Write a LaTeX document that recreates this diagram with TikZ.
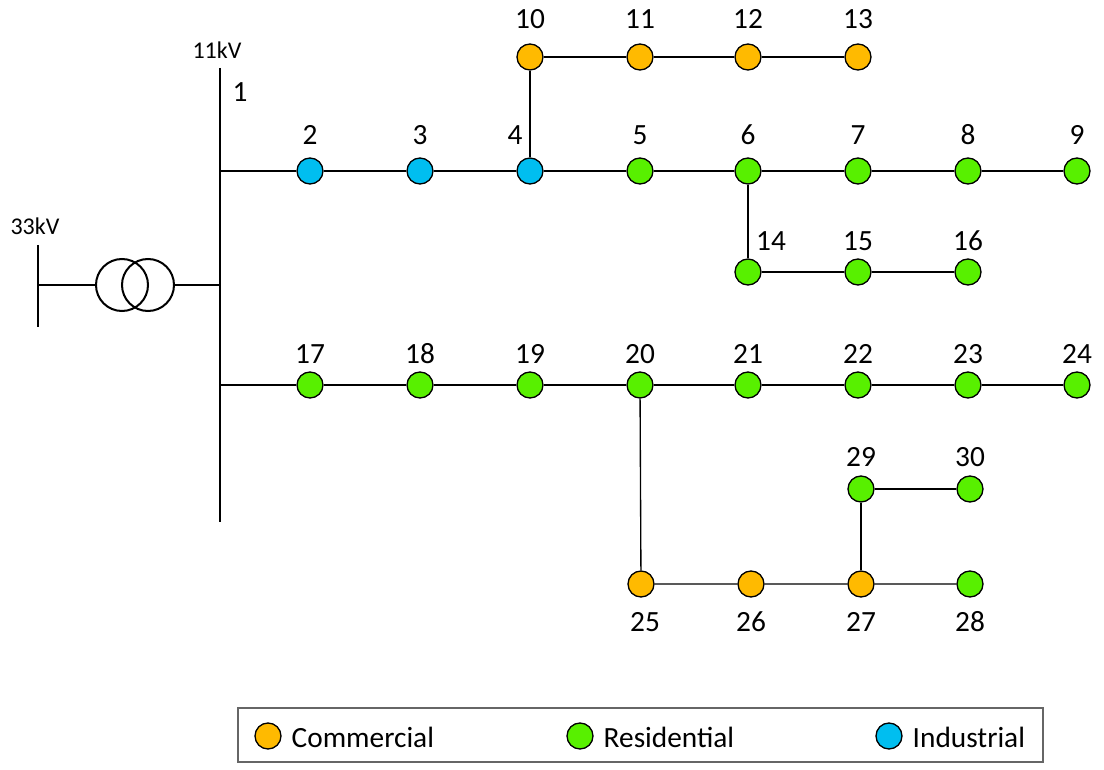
\documentclass[tikz,border=0pt]{standalone}
\usepackage{fontspec}
\setmainfont{Carlito}
\begin{document}
\begin{tikzpicture}[x=0.75pt,y=-0.75pt,
  bus/.style={circle,draw=black,line width=1pt,minimum size=19.5pt,inner sep=0pt},
  com/.style={bus,fill=orangec},
  res/.style={bus,fill=greenc},
  ind/.style={bus,fill=bluec},
  lbl/.style={font=\fontsize{22pt}{24pt}\selectfont},
  ln/.style={line width=1pt}]
\definecolor{orangec}{RGB}{255,186,0}
\definecolor{greenc}{RGB}{88,240,0}
\definecolor{bluec}{RGB}{0,190,240}
\useasboundingbox (0,0) rectangle (1104,770);
% bus bars
\coordinate (b1t) at (220,68); \coordinate (b1b) at (220,522);
\draw[line width=1.5pt] (b1t) -- (b1b);
\coordinate (b0t) at (38,245); \coordinate (b0b) at (38,327);
\draw[line width=1.5pt] (b0t) -- (b0b);
\node[lbl,font=\fontsize{18pt}{20pt}\selectfont] (t11) at (217,50) {11kV};
\node[lbl] (t1) at (240,92) {1};
\node[lbl,font=\fontsize{18pt}{20pt}\selectfont] (t33) at (35,226) {33kV};
% transformer
\node[circle,draw,line width=1.5pt,minimum size=39pt,inner sep=0pt] (tA) at (122,285) {};
\node[circle,draw,line width=1.5pt,minimum size=39pt,inner sep=0pt] (tB) at (148,285) {};
\coordinate (x0) at (38,285); \coordinate (x1) at (220,285);
\draw[line width=1.2pt] (x0) -- (tA.west);
\draw[line width=1.2pt] (tB.east) -- (x1);
\coordinate (c1) at (220,171); \coordinate (c2) at (220,385);
% nodes
\foreach \n/\x/\s in {2/310/ind,3/420/ind,4/530/ind,5/640/res,6/748/res,7/858/res,8/968/res,9/1077/res}
  \node[\s] (n\n) at (\x,171) {};
\foreach \n/\x/\s in {10/530/com,11/640/com,12/748/com,13/858/com}
  \node[\s] (n\n) at (\x,57) {};
\foreach \n/\x in {14/748,15/858,16/968}
  \node[res] (n\n) at (\x,272) {};
\foreach \n/\x in {17/310,18/420,19/530,20/640,21/748,22/858,23/968,24/1077}
  \node[res] (n\n) at (\x,385) {};
\node[com] (n25) at (641,584) {};
\node[com] (n26) at (751,584) {};
\node[com] (n27) at (861,584) {};
\node[res] (n28) at (970,584) {};
\node[res] (n29) at (861,489) {};
\node[res] (n30) at (970,489) {};
% lines
\draw[ln] (c1) -- (n2) -- (n3) -- (n4) -- (n5) -- (n6) -- (n7) -- (n8) -- (n9);
\draw[ln] (n4) -- (n10) -- (n11) -- (n12) -- (n13);
\draw[ln] (n6) -- (n14) -- (n15) -- (n16);
\draw[ln] (c2) -- (n17) -- (n18) -- (n19) -- (n20) -- (n21) -- (n22) -- (n23) -- (n24);
\draw[ln] (n20) -- (n25) -- (n26) -- (n27) -- (n28);
\draw[ln] (n27) -- (n29) -- (n30);
% labels
\foreach \n/\x in {2/310,3/420,5/640,6/748,7/858,8/968,9/1077}
  \node[lbl] (l\n) at (\x,135) {\n};
\node[lbl] (l4) at (515,135) {4};
\foreach \n/\x in {10/530,11/640,12/748,13/858}
  \node[lbl] (l\n) at (\x,19) {\n};
\node[lbl] (l14) at (771,241) {14};
\node[lbl] (l15) at (858,241) {15};
\node[lbl] (l16) at (968,241) {16};
\foreach \n/\x in {17/310,18/420,19/530,20/640,21/748,22/858,23/968,24/1077}
  \node[lbl] (l\n) at (\x,354) {\n};
\node[lbl] (l29) at (861,457) {29};
\node[lbl] (l30) at (970,457) {30};
\foreach \n/\x in {25/645,26/751,27/861,28/970}
  \node[lbl] (l\n) at (\x,622) {\n};
% legend
\draw[draw=black!60,line width=0.8pt] (238,708) rectangle (1043,762);
\node[com] (k1) at (268,736) {};
\node[lbl,anchor=west] (kt1) at (287,737) {Commercial};
\node[res] (k2) at (580,736) {};
\node[lbl,anchor=west] (kt2) at (599,737) {Residential};
\node[ind] (k3) at (889,736) {};
\node[lbl,anchor=west] (kt3) at (908,737) {Industrial};
\end{tikzpicture}
\end{document}
